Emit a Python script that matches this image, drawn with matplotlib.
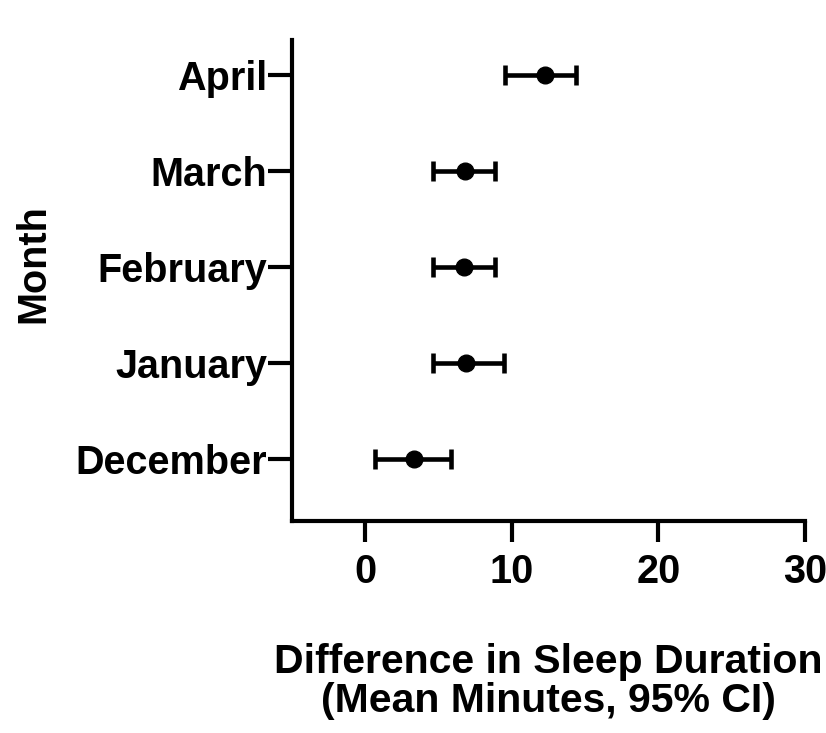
import matplotlib
matplotlib.use("Agg")
import matplotlib.pyplot as plt

months = ["December", "January", "February", "March", "April"]
means = [3.3, 6.9, 6.75, 6.77, 12.25]
ci_low = [0.67, 4.65, 4.65, 4.65, 9.5]
ci_high = [5.87, 9.43, 8.84, 8.84, 14.4]
xticks = [0, 10, 20, 30]

plt.rcParams['font.family'] = ['Liberation Sans', 'DejaVu Sans']
plt.rcParams['font.weight'] = 'bold'

fig = plt.figure(figsize=(8.26, 7.33), dpi=100)
ax = fig.add_axes([292/826, 1-521/733, 513/826, 481/733])

ypos = list(range(len(months)))
xerr = [[m - l for m, l in zip(means, ci_low)], [h - m for m, h in zip(means, ci_high)]]
ax.errorbar(means, ypos, xerr=xerr, fmt='o', color='black', ms=12,
            elinewidth=3.3, capsize=7, capthick=3.3)

ax.set_xlim(-5, 30)
ax.set_ylim(-0.64, 4.36)
ax.set_xticks(xticks)
ax.set_xticklabels([str(t) for t in xticks])
ax.set_yticks(ypos)
ax.set_yticklabels(months)

for s in ['top', 'right']:
    ax.spines[s].set_visible(False)
for s in ['left', 'bottom']:
    ax.spines[s].set_linewidth(3)

ax.tick_params(axis='x', length=15, width=3, labelsize=28.5, pad=8)
ax.tick_params(axis='y', length=17, width=3, labelsize=28.5, pad=1)
for lab in ax.get_xticklabels() + ax.get_yticklabels():
    lab.set_fontweight('bold')

ax.set_xlabel("Difference in Sleep Duration\n(Mean Minutes, 95% CI)", fontsize=29.5,
              fontweight='bold', linespacing=1.03)
ax.xaxis.set_label_coords(0.5, -0.254)
ax.set_ylabel("Month", fontsize=28.5, fontweight='bold')
ax.yaxis.set_label_coords(-0.505, 0.536)
ax.yaxis.label.set_va('center')

fig.savefig("out.png", dpi=100)
